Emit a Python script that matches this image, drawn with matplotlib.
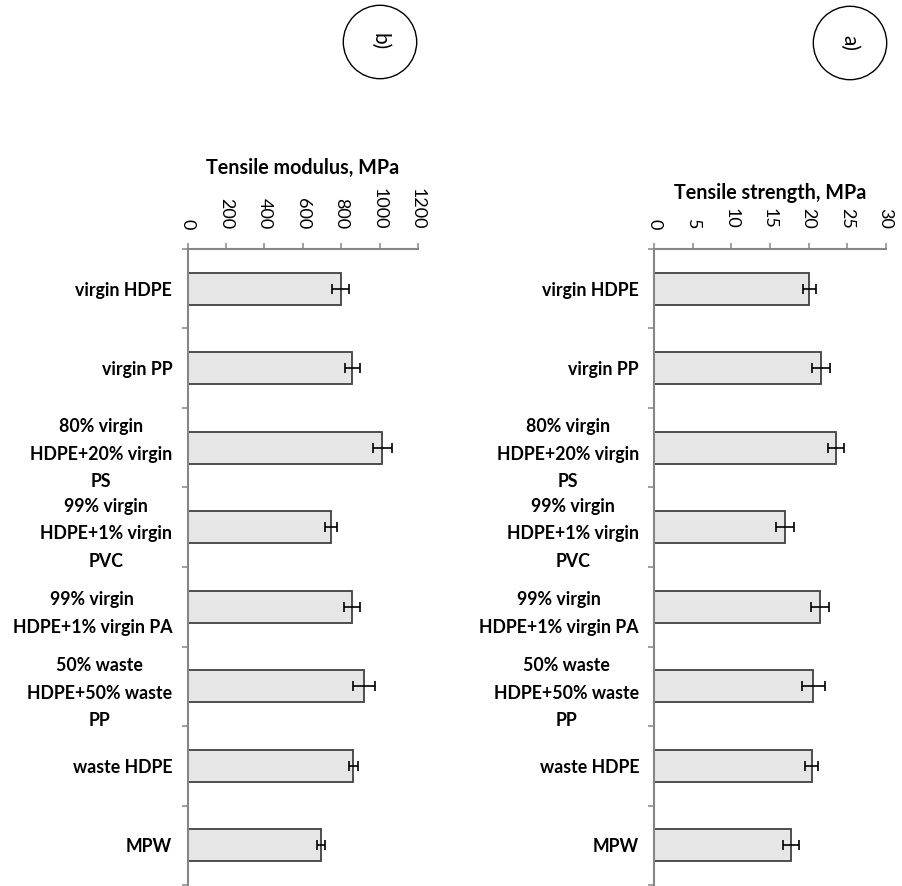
import numpy as np
import matplotlib
matplotlib.use('Agg')
import matplotlib.pyplot as plt
import matplotlib.patches as patches

plt.rcParams['font.family'] = ['Lato', 'DejaVu Sans']

labels = ['virgin HDPE', 'virgin PP', '80% virgin\nHDPE+20% virgin\nPS',
          '99% virgin\nHDPE+1% virgin\nPVC', '99% virgin\nHDPE+1% virgin PA',
          '50% waste\nHDPE+50% waste\nPP', 'waste HDPE', 'MPW']
modulus = [797, 857, 1015, 748, 857, 918, 864, 696]
modulus_err = [46, 39, 50, 30, 40, 58, 22, 22]
strength = [20.1, 21.6, 23.5, 16.9, 21.5, 20.6, 20.4, 17.7]
strength_err = [0.87, 1.14, 1.04, 1.17, 1.19, 1.47, 0.84, 1.06]

modulus_ticks = [0, 200, 400, 600, 800, 1000, 1200]
strength_ticks = [0, 5, 10, 15, 20, 25, 30]

AXIS_GREY = '#868686'


def draw_panel(ax, values, errs, ticks, title, title_pad):
    y = np.arange(len(labels))
    ax.barh(y, values, height=0.4, color='#e6e6e6', edgecolor='#404040',
            linewidth=1.3, zorder=2)
    ax.errorbar(values, y, xerr=errs, fmt='none', ecolor='black',
                elinewidth=1.2, capsize=3.8, capthick=1.2, zorder=3)
    ax.set_ylim(len(labels) - 0.5, -0.5)
    ax.set_xlim(ticks[0], ticks[-1])

    # value axis on top, labels rotated like the original sheet
    ax.xaxis.tick_top()
    ax.xaxis.set_label_position('top')
    ax.set_xticks(ticks)
    ax.set_xticklabels([str(t) for t in ticks], rotation=-90, fontsize=13)
    ax.tick_params(axis='x', direction='out', length=4.3, width=1.1,
                   color=AXIS_GREY, pad=10)
    ax.set_xlabel(title, fontsize=14.2, fontweight='bold', labelpad=title_pad)

    # category axis: ticks between categories
    ax.set_yticks(y)
    ax.set_yticklabels(labels, fontsize=12.8, fontweight='bold',
                       multialignment='center', linespacing=1.75)
    ax.set_yticks(np.arange(-0.5, len(labels) + 0.5, 1), minor=True)
    ax.tick_params(axis='y', which='major', length=0, pad=11)
    ax.tick_params(axis='y', which='minor', direction='out', length=4.3,
                   width=1.1, color=AXIS_GREY)

    for side in ['right', 'bottom']:
        ax.spines[side].set_visible(False)
    for side in ['top', 'left']:
        ax.spines[side].set_color(AXIS_GREY)
        ax.spines[side].set_linewidth(1.5)


fig = plt.figure(figsize=(9.02, 8.86), dpi=100)
ax_b = fig.add_axes([0.2079, 0.0011, 0.2555, 0.7179])
ax_a = fig.add_axes([0.7254, 0.0011, 0.2565, 0.7179])

draw_panel(ax_b, modulus, modulus_err, modulus_ticks, 'Tensile modulus, MPa', 10)
draw_panel(ax_a, strength, strength_err, strength_ticks, 'Tensile strength, MPa', 7)

# circled panel letters
for cx, cy, letter in [(3.80, 8.44, 'b)'), (8.50, 8.43, 'a)')]:
    fig.add_artist(patches.Circle((cx, cy), 0.367, transform=fig.dpi_scale_trans,
                                  fill=False, ec='black', lw=1.0))
    fig.text(cx, cy, letter, transform=fig.dpi_scale_trans, rotation=-90,
             ha='center', va='center', fontsize=15)

fig.savefig('out.png', dpi=100)
